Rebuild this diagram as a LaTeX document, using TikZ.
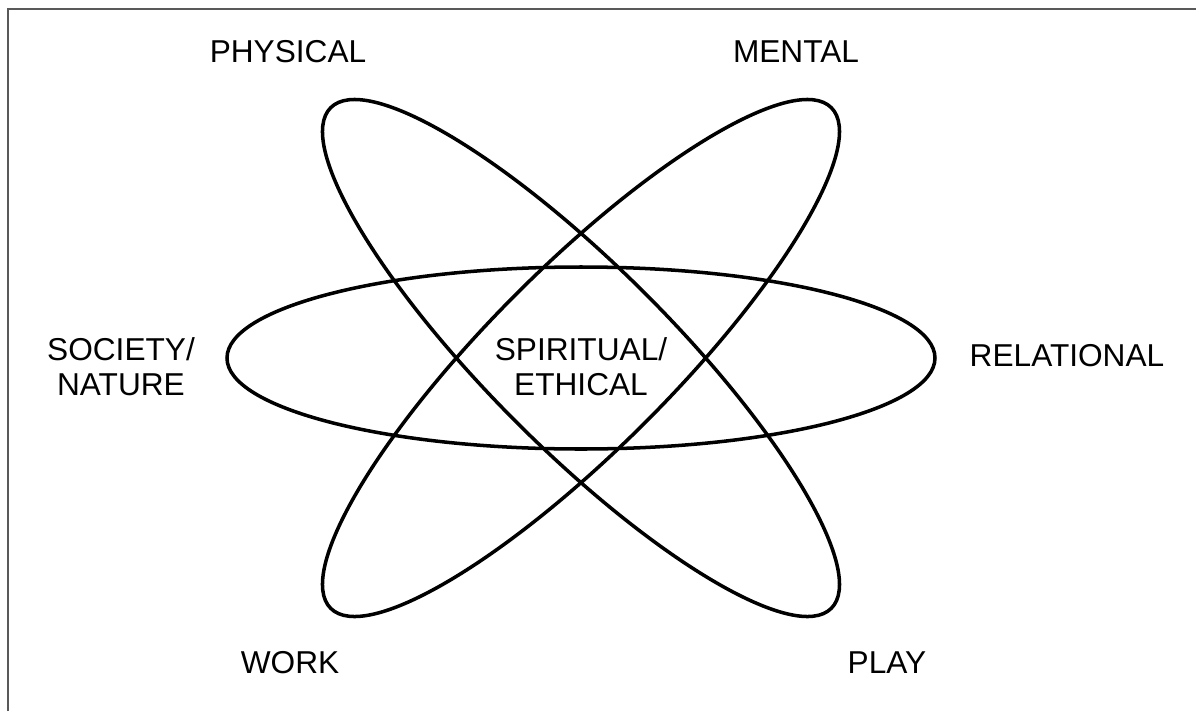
\documentclass[tikz,border=0pt]{standalone}
\usepackage{fontspec}
\setmainfont{Liberation Sans}
\usetikzlibrary{positioning}

\begin{document}
\begin{tikzpicture}[x=1cm, y=1cm,
    orbit/.style={line width=2pt},
    facet/.style={font=\fontsize{18}{20}\selectfont, align=center, inner sep=0pt},
    frame/.style={gray!70!black, line width=1.2pt}]
  \useasboundingbox (-11.62,-7.06) rectangle (12.30,7.16);
  \draw[frame] (-11.46,-7.06) -- (-11.46,6.98) -- (12.30,6.98);
  % the three orbits
  \draw[orbit] (0,0) ellipse (7.08 and 1.82);
  \draw[orbit, rotate=-45] (0,0) ellipse (7.08 and 1.82);
  \draw[orbit, rotate=45] (0,0) ellipse (7.08 and 1.82);
  \node[facet] (physical) at (-5.86,6.12) {PHYSICAL};
  \node[facet] (mental) at (4.30,6.12) {MENTAL};
  \node[facet] (society) at (-9.20,-0.18) {SOCIETY/\\NATURE};
  \node[facet] (relational) at (9.72,0.04) {RELATIONAL};
  \node[facet] (spiritual) at (0,-0.18) {SPIRITUAL/\\ETHICAL};
  \node[facet] (work) at (-5.82,-6.10) {WORK};
  \node[facet] (play) at (6.12,-6.10) {PLAY};
\end{tikzpicture}
\end{document}
